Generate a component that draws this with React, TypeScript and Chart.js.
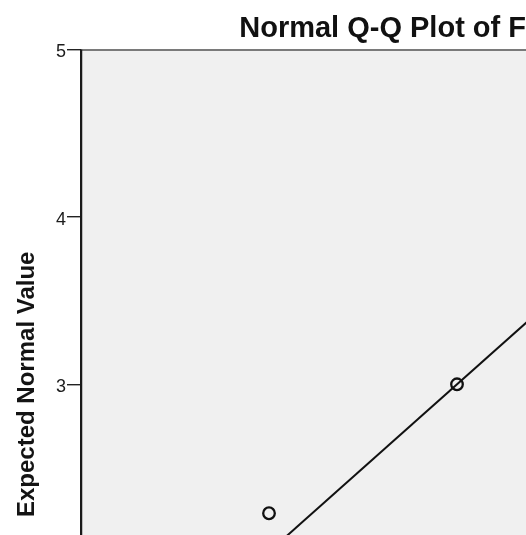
import React, { useEffect, useRef } from "react";
import { Chart, registerables } from "chart.js";

Chart.register(...registerables);

// ---- data ----
const chartTitle = "Normal Q-Q Plot of F";
const yAxisTitle = "Expected Normal Value";
const observedValues = [2, 3];
const expectedNormalValues = [2.23, 3.0];
const referenceLineX = [1, 5];
const referenceLineY = [1, 5];
const yTickValues = [3, 4, 5];
const yTickLabels = ["3", "4", "5"];
const xRange = [1, 3.367];
const yRange = [2.1, 5];
// the full (uncropped) y axis spans 1..5; its title is centred on the middle value
const yTitleCentreValue = 3;

const FONT = "'Liberation Sans', Arial, Helvetica, sans-serif";

const plotFrame = {
  id: "plotFrame",
  beforeDatasetsDraw(chart: any) {
    const { ctx, chartArea } = chart;
    ctx.save();
    ctx.fillStyle = "#f0f0f0";
    ctx.fillRect(chartArea.left, chartArea.top, chartArea.right - chartArea.left, chartArea.bottom - chartArea.top);
    ctx.strokeStyle = "#7a7a7a";
    ctx.lineWidth = 2;
    ctx.beginPath();
    ctx.moveTo(chartArea.left, chartArea.top + 0.5);
    ctx.lineTo(chartArea.right, chartArea.top + 0.5);
    ctx.stroke();
    ctx.strokeStyle = "#1a1a1a";
    ctx.lineWidth = 1.5;
    ctx.beginPath();
    ctx.moveTo(chartArea.left + 0.5, chartArea.top);
    ctx.lineTo(chartArea.left + 0.5, chartArea.bottom);
    ctx.stroke();
    ctx.restore();
  },
};

const yTitlePlugin = {
  id: "yTitlePlugin",
  afterDraw(chart: any) {
    const { ctx } = chart;
    const yScale = chart.scales.y;
    const cy = yScale.getPixelForValue(yTitleCentreValue);
    ctx.save();
    ctx.translate(33.5, cy);
    ctx.rotate(-Math.PI / 2);
    ctx.font = `bold 24px ${FONT}`;
    ctx.fillStyle = "#141414";
    ctx.textAlign = "center";
    ctx.textBaseline = "alphabetic";
    ctx.fillText(yAxisTitle, 0, 0);
    ctx.restore();
  },
};

export default function App() {
  const canvasRef = useRef<HTMLCanvasElement | null>(null);

  useEffect(() => {
    document.body.style.margin = "0";
    document.body.style.overflow = "hidden";
    const canvas = canvasRef.current;
    if (!canvas) return;

    const points = observedValues.map((x, i) => ({ x, y: expectedNormalValues[i] }));
    const refLine = referenceLineX.map((x, i) => ({ x, y: referenceLineY[i] }));

    const chart = new Chart(canvas, {
      type: "scatter",
      data: {
        datasets: [
          {
            type: "scatter",
            data: points,
            pointStyle: "circle",
            pointRadius: 5.8,
            pointBorderWidth: 2.3,
            borderColor: "#111111",
            backgroundColor: "rgba(0,0,0,0)",
            pointBackgroundColor: "rgba(0,0,0,0)",
            pointBorderColor: "#111111",
          } as any,
          {
            type: "line",
            data: refLine,
            borderColor: "#111111",
            borderWidth: 2,
            pointRadius: 0,
            fill: false,
            showLine: true,
          } as any,
        ],
      },
      options: {
        responsive: false,
        animation: false,
        layout: { padding: 0, autoPadding: false },
        plugins: {
          legend: { display: false },
          tooltip: { enabled: false },
          title: {
            display: true,
            text: chartTitle,
            align: "end",
            color: "#111111",
            font: { family: FONT, size: 29, weight: "bold", lineHeight: 1.2 },
            padding: { top: 11.2, bottom: 3.4 },
          },
        },
        scales: {
          x: {
            type: "linear",
            display: false,
            min: xRange[0],
            max: xRange[1],
          },
          y: {
            type: "linear",
            position: "left",
            min: yRange[0],
            max: yRange[1],
            afterFit(scale: any) {
              scale.width = 81;
              scale.paddingTop = 0;
              scale.paddingBottom = 0;
            },
            afterBuildTicks(scale: any) {
              scale.ticks = yTickValues.map((v) => ({ value: v }));
            },
            ticks: {
              callback: (value: any) => {
                const i = yTickValues.indexOf(Number(value));
                return i >= 0 ? yTickLabels[i] : "";
              },
              color: "#1c1c1c",
              font: { family: FONT, size: 18 },
              padding: 1,
              labelOffset: 3,
            },
            grid: {
              drawOnChartArea: false,
              drawTicks: true,
              tickLength: 14,
              color: "#222222",
              lineWidth: 1.4,
            },
            border: { display: true, color: "#1a1a1a", width: 1.5 },
          },
        },
      },
      plugins: [plotFrame, yTitlePlugin],
    });

    return () => chart.destroy();
  }, []);

  return (
    <div style={{ position: "fixed", left: 0, top: 0, width: 526, height: 535, background: "#ffffff" }}>
      <canvas ref={canvasRef} width={526} height={535} style={{ display: "block" }} />
    </div>
  );
}
